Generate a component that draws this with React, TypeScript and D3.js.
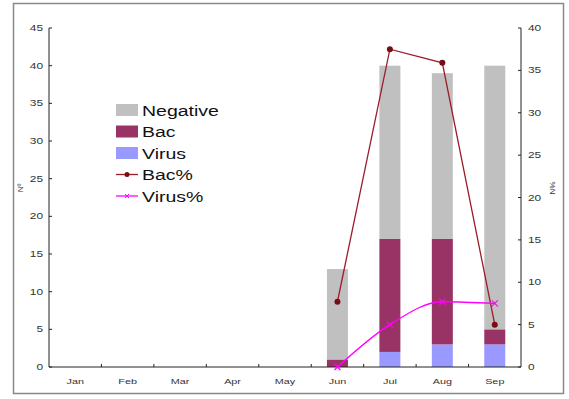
import React from "react";
import * as d3 from "d3";

const months = ["Jan", "Feb", "Mar", "Apr", "May", "Jun", "Jul", "Aug", "Sep"];
const virus = [0, 0, 0, 0, 0, 0, 2, 3, 3];
const bac = [0, 0, 0, 0, 0, 1, 15, 14, 2];
const negative = [0, 0, 0, 0, 0, 12, 23, 22, 35];
const bacPct = [null, null, null, null, null, 7.7, 37.5, 35.9, 5.0];
const virusPct = [null, null, null, null, null, 0, 5.0, 7.7, 7.5];
const leftTicks = [0, 5, 10, 15, 20, 25, 30, 35, 40, 45];
const rightTicks = [0, 5, 10, 15, 20, 25, 30, 35, 40];
const legendItems = ["Negative", "Bac", "Virus", "Bac%", "Virus%"];

const W = 569, H = 399;
const L = 49, R = 521, T = 28, B = 367;
const C_NEG = "#C0C0C0", C_BAC = "#993366", C_VIR = "#9999FF", C_BACL = "#9B1C2A", C_VIRL = "#FF00FF";
const FONT = "Liberation Sans, Arial, sans-serif";

function SText(props: { x: number; y: number; sx: number; anchor?: string; size: number; fill?: string; rot?: number; children: any }) {
  const { x, y, sx, anchor = "start", size, fill = "#333", rot = 0, children } = props;
  return (
    <text
      transform={`translate(${x},${y}) rotate(${rot}) scale(${sx},1)`}
      textAnchor={anchor}
      fontFamily={FONT}
      fontSize={size}
      fill={fill}
    >
      {children}
    </text>
  );
}

export default function App() {
  const x = d3.scaleBand().domain(months).range([L, R]).paddingInner(0).paddingOuter(0);
  const yL = d3.scaleLinear().domain([0, 45]).range([B, T]);
  const yR = d3.scaleLinear().domain([0, 40]).range([B, T]);
  const bw = 21;
  const cx = (i: number) => (x(months[i]) as number) + x.bandwidth() / 2;

  const stackKeys = ["virus", "bac", "negative"];
  const rows = months.map((m, i) => ({ m, virus: virus[i], bac: bac[i], negative: negative[i] }));
  const stacked = d3.stack<any>().keys(stackKeys)(rows);
  const colors: Record<string, string> = { virus: C_VIR, bac: C_BAC, negative: C_NEG };

  const lineGen = (curve: any) =>
    d3.line<any>()
      .defined((d) => d.v !== null)
      .x((d) => cx(d.i))
      .y((d) => yR(d.v))
      .curve(curve);
  const bacData = bacPct.map((v, i) => ({ v, i }));
  const virData = virusPct.map((v, i) => ({ v, i }));

  return (
    <svg width={W} height={H} style={{ position: "absolute", left: 0, top: 0, background: "#fff" }}>
      <rect x={13.5} y={3.5} width={550} height={390} fill="none" stroke="#888" strokeWidth={1.5} />
      {stacked.map((layer) => (
        <g key={layer.key}>
          {layer.map((d, i) =>
            d[1] - d[0] > 0 ? (
              <rect key={i} x={cx(i) - bw / 2} y={yL(d[1])} width={bw} height={yL(d[0]) - yL(d[1])} fill={colors[layer.key]} />
            ) : null
          )}
        </g>
      ))}
      <line x1={L} x2={L} y1={T} y2={B} stroke="#222" />
      <line x1={R} x2={R} y1={T} y2={B} stroke="#222" />
      <line x1={L} x2={R} y1={B} y2={B} stroke="#222" />
      {leftTicks.map((t) => (
        <g key={"l" + t}>
          <line x1={L} x2={L + 3} y1={yL(t)} y2={yL(t)} stroke="#222" />
          <SText x={L - 6} y={yL(t) + 3} sx={1.4} anchor="end" size={8.5}>{t}</SText>
        </g>
      ))}
      {rightTicks.map((t) => (
        <g key={"r" + t}>
          <line x1={R - 3} x2={R} y1={yR(t)} y2={yR(t)} stroke="#222" />
          <SText x={R + 7} y={yR(t) + 3} sx={1.4} size={8.5}>{t}</SText>
        </g>
      ))}
      {months.map((m, i) => (
        <g key={m}>
          {i > 0 ? <line x1={x(m) as number} x2={x(m) as number} y1={B} y2={B - 3} stroke="#222" /> : null}
          <SText x={cx(i)} y={B + 17} sx={1.35} anchor="middle" size={8}>{m}</SText>
        </g>
      ))}
      <SText x={23} y={188} sx={1} rot={-90} anchor="middle" size={8}>Nº</SText>
      <SText x={550} y={188} sx={1} rot={90} anchor="middle" size={8}>%N</SText>
      <path d={lineGen(d3.curveLinear)(bacData) || ""} fill="none" stroke={C_BACL} strokeWidth={1.3} />
      {bacData.filter((d) => d.v !== null).map((d) => (
        <circle key={d.i} cx={cx(d.i)} cy={yR(d.v as number)} r={3} fill="#7A0A14" />
      ))}
      <path d={lineGen(d3.curveMonotoneX)(virData) || ""} fill="none" stroke={C_VIRL} strokeWidth={1.3} />
      {virData.filter((d) => d.v !== null).map((d) => {
        const px = cx(d.i), py = yR(d.v as number);
        return (
          <g key={d.i} stroke={C_VIRL} strokeWidth={1.2}>
            <line x1={px - 3} x2={px + 3} y1={py - 3} y2={py + 3} />
            <line x1={px - 3} x2={px + 3} y1={py + 3} y2={py - 3} />
          </g>
        );
      })}
      {legendItems.map((name, i) => {
        const ly = 110 + i * 21.5;
        return (
          <g key={name}>
            {i < 3 ? (
              <rect x={116} y={ly - 6} width={22} height={12} fill={[C_NEG, C_BAC, C_VIR][i]} />
            ) : (
              <g>
                <line x1={116} x2={138} y1={ly} y2={ly} stroke={i === 3 ? C_BACL : C_VIRL} strokeWidth={1.3} />
                {i === 3 ? (
                  <circle cx={127} cy={ly} r={2.5} fill="#7A0A14" />
                ) : (
                  <g stroke={C_VIRL} strokeWidth={1}>
                    <line x1={125} x2={129} y1={ly - 2} y2={ly + 2} />
                    <line x1={125} x2={129} y1={ly + 2} y2={ly - 2} />
                  </g>
                )}
              </g>
            )}
            <SText x={142} y={ly + 5.5} sx={1.3} size={15} fill="#111">{name}</SText>
          </g>
        );
      })}
    </svg>
  );
}
